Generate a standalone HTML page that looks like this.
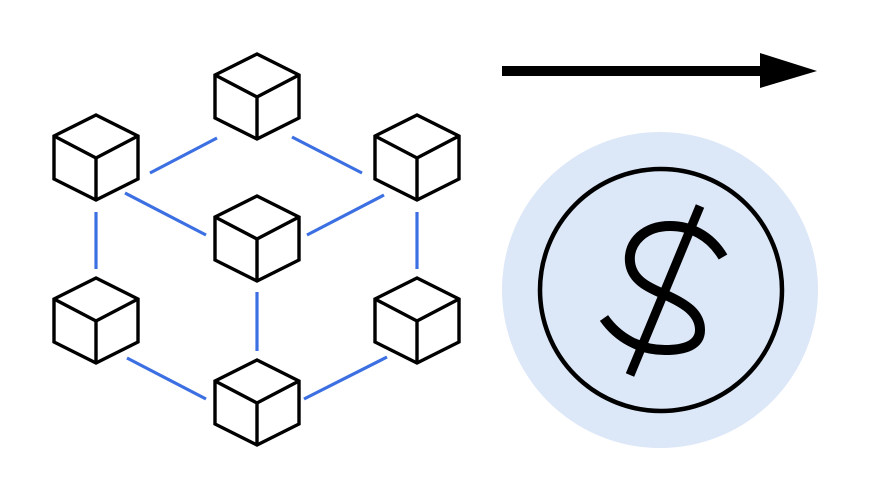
<!DOCTYPE html>
<html><head><meta charset="utf-8"><style>html,body{margin:0;padding:0;background:#fff}svg{display:block}</style></head>
<body>
<svg width="870" height="500" viewBox="0 0 870 500" xmlns="http://www.w3.org/2000/svg">
<defs>
<g id="cube" fill="none" stroke="#000" stroke-width="3.4" stroke-linejoin="miter">
<path d="M0,0 L42,21 L42,64 L0,85 L-42,64 L-42,21 Z"/>
<path d="M-42,21 L0,43 L42,21 M0,43 L0,85"/>
</g>
</defs>
<g stroke="#3c70e2" stroke-width="3.2" fill="none">
<line x1="150" y1="173" x2="217" y2="138"/>
<line x1="292" y1="137" x2="362" y2="173"/>
<line x1="125" y1="193" x2="206" y2="235"/>
<line x1="384" y1="195" x2="307" y2="235"/>
<line x1="96" y1="212" x2="96" y2="269"/>
<line x1="417" y1="212" x2="417" y2="269"/>
<line x1="257" y1="292" x2="257" y2="351"/>
<line x1="127" y1="358" x2="206" y2="399"/>
<line x1="387" y1="357" x2="304" y2="399"/>
</g>
<use href="#cube" x="257" y="54"/>
<use href="#cube" x="96" y="115"/>
<use href="#cube" x="417" y="115"/>
<use href="#cube" x="257" y="196"/>
<use href="#cube" x="96" y="278"/>
<use href="#cube" x="417" y="278"/>
<use href="#cube" x="257" y="360"/>
<line x1="502" y1="71" x2="765" y2="71" stroke="#000" stroke-width="10"/>
<polygon points="760,53 817,71 760,88" fill="#000"/>
<circle cx="660" cy="290" r="158" fill="#dce7f8"/>
<circle cx="661" cy="290" r="121" fill="none" stroke="#000" stroke-width="4.5"/>
<path d="M723,257 C710,235 690,226 670,226 C645,226 628,242 630,262 C632,283 655,290 668,296 C685,304 700,313 700,330 C700,345 685,350 665,350 C640,350 618,338 604,318" fill="none" stroke="#000" stroke-width="10"/>
<line x1="700" y1="206" x2="630" y2="375" stroke="#000" stroke-width="9"/>
</svg>
</body></html>
